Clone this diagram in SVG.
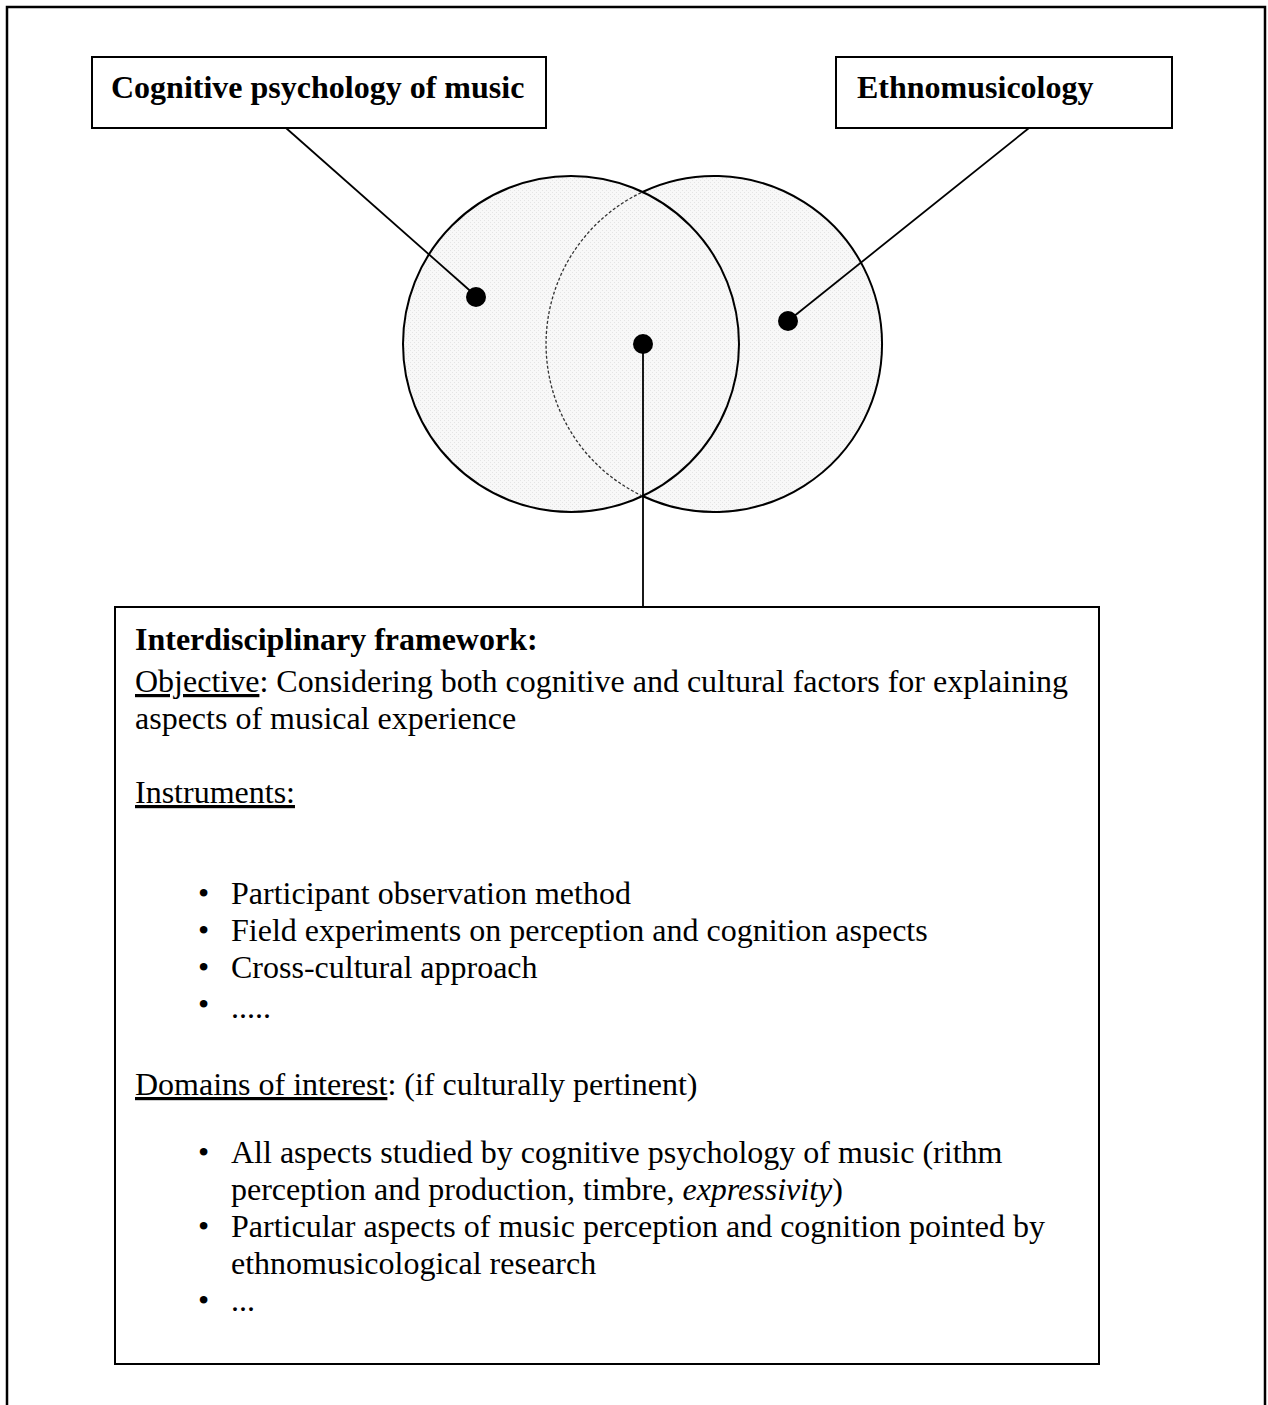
<svg xmlns="http://www.w3.org/2000/svg" width="1268" height="1405" viewBox="0 0 1268 1405">
  <defs>
    <!-- fine stipple used to shade the discs -->
    <pattern id="stipple" width="4" height="4" patternUnits="userSpaceOnUse">
      <rect width="4" height="4" fill="#f8f8f8"/>
      <rect x="0" y="0" width="1" height="1" fill="#e4e4e4"/>
      <rect x="2" y="2" width="1" height="1" fill="#e4e4e4"/>
    </pattern>
  </defs>
  <style>
    .frame { fill: none; stroke: #000; stroke-width: 2.5; }
    .box { fill: #fff; stroke: #000; stroke-width: 2; }
    .disc { fill: url(#stipple); stroke: none; }
    .ring { fill: none; stroke: #000; stroke-width: 2; }
    .ring-hidden { fill: none; stroke: #333; stroke-width: 1.3; stroke-dasharray: 3 2; }
    .wire { fill: none; stroke: #000; stroke-width: 1.8; }
    .dot { fill: #000; }
    .title { font-family: "Liberation Serif", "Times New Roman", serif; font-size: 32px; font-weight: bold; fill: #000; }
    .body { font-family: "Liberation Serif", "Times New Roman", serif; font-size: 32px; fill: #000; }
    .u { text-decoration: underline; }
  </style>

  <!-- page frame (open at the bottom) -->
  <path class="frame" d="M7,1405 V7 H1265 V1405"/>

  <!-- Venn diagram: two overlapping disciplines -->
  <g id="venn">
    <circle class="disc" cx="571" cy="344" r="168"/>
    <circle class="disc" cx="714" cy="344" r="168"/>
    <circle class="ring" cx="571" cy="344" r="168"/>
    <path class="ring" d="M642.5,192 A168,168 0 1,1 642.5,496"/>
    <path class="ring-hidden" d="M642.5,496 A168,168 0 0,1 642.5,192"/>
  </g>

  <!-- leader lines -->
  <g id="connectors">
    <line class="wire" x1="286" y1="128" x2="476" y2="296"/>
    <line class="wire" x1="1029" y1="128" x2="788" y2="321"/>
    <line class="wire" x1="643" y1="344" x2="643" y2="607"/>
    <circle class="dot" cx="476" cy="297" r="10"/>
    <circle class="dot" cx="788" cy="321" r="10"/>
    <circle class="dot" cx="643" cy="344" r="10"/>
  </g>

  <g id="cognitive-psychology">
    <rect class="box" x="92" y="57" width="454" height="71"/>
    <text class="title" x="111" y="98">Cognitive psychology of music</text>
  </g>

  <g id="ethnomusicology">
    <rect class="box" x="836" y="57" width="336" height="71"/>
    <text class="title" x="857" y="98">Ethnomusicology</text>
  </g>

  <g id="framework">
    <rect class="box" x="115" y="607" width="984" height="757"/>
    <text class="title" x="135" y="650">Interdisciplinary framework:</text>

    <text class="body" x="135" y="692"><tspan class="u">Objective</tspan>: Considering both cognitive and cultural factors for explaining</text>
    <text class="body" x="135" y="729">aspects of musical experience</text>

    <text class="body" x="135" y="803"><tspan class="u">Instruments:</tspan></text>

    <text class="body" x="198" y="904">•</text>
    <text class="body" x="231" y="904">Participant observation method</text>
    <text class="body" x="198" y="941">•</text>
    <text class="body" x="231" y="941">Field experiments on perception and cognition aspects</text>
    <text class="body" x="198" y="978">•</text>
    <text class="body" x="231" y="978">Cross-cultural approach</text>
    <text class="body" x="198" y="1015">•</text>
    <text class="body" x="231" y="1018">.....</text>

    <text class="body" x="135" y="1095"><tspan class="u">Domains of interest</tspan>: (if culturally pertinent)</text>

    <text class="body" x="198" y="1163">•</text>
    <text class="body" x="231" y="1163">All aspects studied by cognitive psychology of music (rithm</text>
    <text class="body" x="231" y="1200">perception and production, timbre, <tspan font-style="italic">expressivity</tspan>)</text>
    <text class="body" x="198" y="1237">•</text>
    <text class="body" x="231" y="1237">Particular aspects of music perception and cognition pointed by</text>
    <text class="body" x="231" y="1274">ethnomusicological research</text>
    <text class="body" x="198" y="1311">•</text>
    <text class="body" x="231" y="1311">...</text>
  </g>
</svg>
